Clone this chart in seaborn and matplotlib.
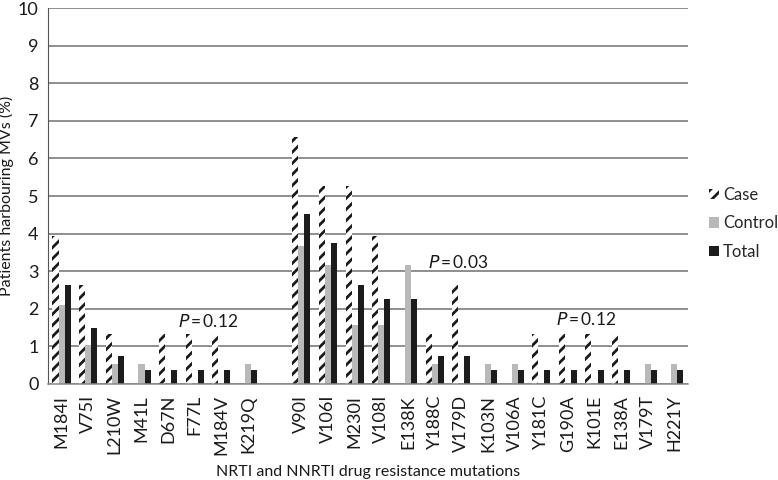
import numpy as np
import pandas as pd
import matplotlib
matplotlib.use("Agg")
import matplotlib.pyplot as plt
from matplotlib.patches import Patch
import seaborn as sns

mutations = ["M184I", "V75I", "L210W", "M41L", "D67N", "F77L", "M184V", "K219Q", " ",
             "V90I", "V106I", "M230I", "V108I", "E138K", "Y188C", "V179D", "K103N",
             "V106A", "Y181C", "G190A", "K101E", "E138A", "V179T", "H221Y"]
case = [3.95, 2.63, 1.32, 0, 1.32, 1.32, 1.32, 0, np.nan,
        6.58, 5.26, 5.26, 3.95, 0, 1.32, 2.63, 0,
        0, 1.32, 1.32, 1.32, 1.32, 0, 0]
control = [2.11, 1.05, 0.53, 0.53, 0, 0, 0, 0.53, np.nan,
           3.68, 3.16, 1.58, 1.58, 3.16, 0.53, 0, 0.53,
           0.53, 0, 0, 0, 0, 0.53, 0.53]
total = [2.63, 1.5, 0.75, 0.38, 0.38, 0.38, 0.38, 0.38, np.nan,
         4.51, 3.76, 2.63, 2.26, 2.26, 0.75, 0.75, 0.38,
         0.38, 0.38, 0.38, 0.38, 0.38, 0.38, 0.38]
groups = ["Case", "Control", "Total"]
annotations = [("P", "0.12", 5.5, 1.45), ("P", "0.03", 14.9, 3.0), ("P", "0.12", 19.7, 1.48)]

sns.set_style("white")
plt.rcParams["font.family"] = ["Lato", "DejaVu Sans"]
plt.rcParams["hatch.linewidth"] = 2.0

rows = []
for m, a, b, c in zip(mutations, case, control, total):
    rows += [(m, "Case", a), (m, "Control", b), (m, "Total", c)]
df = pd.DataFrame(rows, columns=["mutation", "group", "value"]).dropna()

colors = {"Case": "#ffffff", "Control": "#b9b9b9", "Total": "#1c1c1c"}

fig = plt.figure(figsize=(7.78, 4.80), dpi=100)
ax = fig.add_axes([0.062, 0.2, 0.822, 0.783])
sns.barplot(data=df, x="mutation", y="value", hue="group", order=mutations,
            hue_order=groups, palette=colors, width=0.68, ax=ax, legend=False,
            saturation=1, linewidth=0, errorbar=None)

for p in ax.containers[0]:
    p.set_facecolor("white")
    p.set_hatch("///")
    p.set_edgecolor("#1a1a1a")
    p.set_linewidth(0)

ax.set_ylim(0, 10)
ax.set_xlim(-0.5, len(mutations) - 0.5)
ax.set_yticks(range(0, 11))
ax.yaxis.grid(True, color="#707070", linewidth=1.1)
ax.set_axisbelow(True)
for s in ["top", "right"]:
    ax.spines[s].set_visible(False)
ax.spines["left"].set_color("#555555")
ax.spines["bottom"].set_color("#8a8a8a")
ax.spines["bottom"].set_linewidth(1.1)

ax.set_xticks(range(len(mutations)))
ax.set_xticklabels(mutations, rotation=90, fontsize=13, color="#1a1a1a")
ax.set_xticks(np.arange(-0.5, len(mutations)), minor=True)
ax.tick_params(axis="x", which="major", length=0, pad=8)
ax.tick_params(axis="x", which="minor", length=5, color="#8a8a8a", width=1)
ax.tick_params(axis="y", length=4, color="#555555", labelsize=13, labelcolor="#1a1a1a", pad=3)

ax.set_xlabel("NRTI and NNRTI drug resistance mutations", fontsize=11.5, color="#1a1a1a", labelpad=7)
ax.set_ylabel("Patients harbouring MVs (%)", fontsize=11.5, color="#1a1a1a", labelpad=3)

for p, val, x, y in annotations:
    ax.text(x, y, r"$\it{" + p + "}$" + "\u2009=\u2009" + val, ha="center", va="bottom",
            fontsize=12.5, color="#1a1a1a")

handles = [Patch(facecolor="white", hatch="///", edgecolor="#1a1a1a", linewidth=0, label="Case"),
           Patch(facecolor=colors["Control"], linewidth=0, label="Control"),
           Patch(facecolor=colors["Total"], linewidth=0, label="Total")]
fig.legend(handles=handles, loc="center left", bbox_to_anchor=(0.892, 0.535), frameon=False,
           fontsize=12, handlelength=0.6, handleheight=0.6, handletextpad=0.25, labelspacing=0.75)

fig.savefig("out.png", dpi=100)
